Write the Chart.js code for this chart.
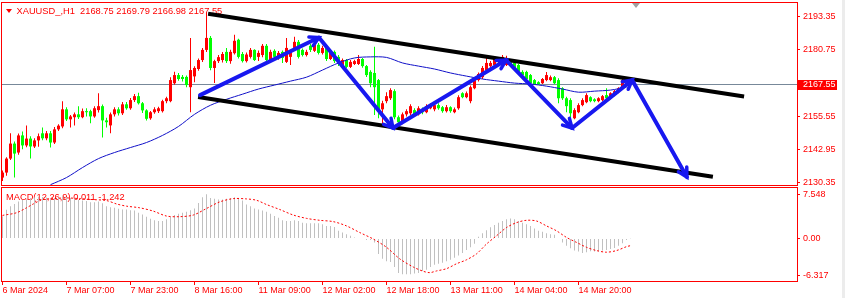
<!DOCTYPE html>
<html>
<head>
<meta charset="utf-8">
<script src="https://cdn.jsdelivr.net/npm/chart.js@4.4.1/dist/chart.umd.min.js"></script>
<style>
  body { margin: 0; background: #fff; }
  #wrap { position: relative; width: 845px; height: 298px; overflow: hidden; background: #fff; }
  #price { position: absolute; left: 0; top: 0; }
  #macd { position: absolute; left: 0; top: 186px; }
  #edge { position: absolute; left: 842px; top: 0; width: 3px; height: 298px; background: #ececec; }
</style>
</head>
<body>
<div id="wrap">
  <canvas id="price" width="845" height="186"></canvas>
  <canvas id="macd" width="845" height="112"></canvas>
  <div id="edge"></div>
</div>
<script>
var symbolTitle = 'XAUUSD_,H1  2168.75 2169.79 2166.98 2167.55';
var macdTitle = 'MACD(12,26,9) 0.011 -1.242';
var bidPrice = 2167.55;

// hourly candles, 6 Mar 15:00 -> 14 Mar 22:00
var opens = [
  2132.3, 2134.2, 2139.5, 2145.2, 2141.8, 2148.3, 2144.5, 2147.1, 2144.1, 2146.4,
  2149.1, 2147.2, 2149.1, 2145.6, 2150.6, 2151.7, 2158.2, 2154.4, 2155.2, 2156.3,
  2155.2, 2157.5, 2157.5, 2155.5, 2157.9, 2159.4, 2154.0, 2152.1, 2156.3, 2158.2,
  2156.7, 2160.1, 2158.6, 2161.7, 2163.2, 2160.5, 2157.8, 2154.8, 2157.1, 2157.5,
  2157.5, 2161.3, 2161.3, 2168.1, 2171.2, 2170.5, 2170.5, 2166.6, 2170.7, 2173.5,
  2176.9, 2180.75, 2185.3, 2173.9, 2176.5, 2176.9, 2180.0, 2176.5, 2179.5, 2184.6,
  2179.2, 2176.5, 2178.1, 2180.75, 2178.1, 2178.8, 2182.3, 2176.9, 2180.4, 2177.7,
  2180.0, 2176.2, 2178.1, 2181.5, 2183.8, 2180.75, 2178.8, 2182.3, 2180.4, 2182.7,
  2179.6, 2181.5, 2177.3, 2180.0, 2178.1, 2175.0, 2176.9, 2174.3, 2175.4, 2175.4,
  2177.3, 2174.6, 2172.4, 2172.0, 2169.3, 2158.2, 2161.3, 2162.4, 2165.1, 2155.2,
  2153.3, 2156.3, 2156.7, 2157.9, 2156.3, 2158.2, 2157.1, 2158.6, 2158.2, 2159.8,
  2159.0, 2157.5, 2159.0, 2157.1, 2158.6, 2164.3, 2162.8, 2161.3, 2166.2, 2169.3,
  2170.4, 2173.1, 2174.6, 2175.0, 2176.2, 2176.2, 2175.0, 2176.5, 2175.8, 2175.0,
  2172.4, 2172.4, 2171.2, 2169.3, 2168.5, 2168.1, 2169.3, 2169.3, 2170.4, 2169.3,
  2166.2, 2162.4, 2161.7, 2154.8, 2157.1, 2159.8, 2160.9, 2162.8, 2162.0, 2161.3,
  2161.7, 2163.6, 2162.4, 2163.6, 2164.7, 2166.2, 2169.7, 2168.75
];
var highs = [
  2135.0, 2140.0, 2149.1, 2146.0, 2149.0, 2149.8, 2152.1, 2148.0, 2147.2, 2149.0,
  2151.3, 2150.0, 2150.0, 2151.5, 2152.5, 2161.3, 2159.0, 2156.0, 2157.0, 2159.4,
  2158.5, 2158.6, 2158.0, 2159.4, 2164.3, 2160.0, 2155.0, 2157.0, 2159.0, 2159.0,
  2161.0, 2161.0, 2162.5, 2164.0, 2164.5, 2161.0, 2158.2, 2157.6, 2159.0, 2159.2,
  2161.8, 2163.0, 2170.4, 2172.5, 2172.0, 2171.2, 2171.0, 2185.3, 2174.5, 2177.5,
  2181.5, 2194.9, 2186.0, 2177.0, 2178.8, 2180.0, 2181.5, 2180.8, 2186.5, 2185.0,
  2180.0, 2179.8, 2181.5, 2181.0, 2180.5, 2183.0, 2183.0, 2180.8, 2181.0, 2180.3,
  2180.5, 2185.3, 2180.8, 2185.7, 2184.5, 2181.3, 2180.8, 2183.0, 2183.4, 2183.4,
  2182.3, 2182.0, 2180.8, 2180.5, 2178.8, 2177.5, 2177.3, 2176.9, 2177.0, 2178.8,
  2177.7, 2175.0, 2173.0, 2181.9, 2169.7, 2161.5, 2164.7, 2166.2, 2165.8, 2155.9,
  2157.0, 2158.2, 2160.1, 2158.6, 2159.4, 2158.9, 2160.1, 2160.5, 2160.5, 2160.5,
  2159.5, 2159.8, 2159.4, 2158.9, 2163.5, 2164.7, 2165.0, 2167.2, 2170.0, 2172.2,
  2174.6, 2178.8, 2176.5, 2178.0, 2178.1, 2178.8, 2178.5, 2177.0, 2176.2, 2175.4,
  2173.0, 2172.8, 2171.6, 2169.7, 2168.9, 2170.1, 2172.4, 2171.0, 2170.8, 2170.0,
  2166.6, 2163.0, 2162.4, 2158.6, 2160.5, 2162.4, 2164.3, 2163.2, 2162.4, 2162.8,
  2163.6, 2166.2, 2164.7, 2165.5, 2166.6, 2170.4, 2170.4, 2169.79
];
var lows = [
  2131.0, 2133.0, 2139.0, 2132.3, 2141.0, 2143.0, 2143.8, 2139.5, 2143.5, 2144.0,
  2146.5, 2146.5, 2143.7, 2145.0, 2150.0, 2151.0, 2153.8, 2151.3, 2152.1, 2154.5,
  2154.8, 2155.5, 2152.9, 2155.0, 2157.0, 2147.5, 2151.3, 2149.1, 2155.5, 2155.9,
  2156.0, 2158.0, 2158.0, 2161.0, 2160.0, 2156.8, 2154.0, 2154.2, 2156.5, 2156.8,
  2157.0, 2160.5, 2160.9, 2167.5, 2169.0, 2168.8, 2166.6, 2157.1, 2168.5, 2172.8,
  2176.2, 2180.0, 2173.0, 2168.2, 2175.8, 2176.0, 2175.8, 2175.5, 2179.0, 2177.5,
  2176.0, 2176.0, 2177.5, 2176.5, 2176.5, 2178.0, 2176.2, 2176.2, 2177.5, 2177.0,
  2175.8, 2175.8, 2175.0, 2181.0, 2177.5, 2178.2, 2178.2, 2180.0, 2180.0, 2179.0,
  2179.0, 2176.5, 2176.9, 2175.8, 2174.6, 2174.6, 2173.9, 2173.9, 2175.0, 2175.0,
  2174.0, 2170.5, 2166.6, 2156.0, 2154.8, 2152.1, 2160.5, 2161.7, 2154.4, 2151.7,
  2152.5, 2155.5, 2156.0, 2155.5, 2155.9, 2156.3, 2156.7, 2158.2, 2157.5, 2158.0,
  2156.9, 2157.0, 2156.9, 2156.7, 2158.0, 2162.4, 2162.4, 2160.5, 2165.8, 2168.8,
  2169.7, 2172.7, 2174.0, 2174.6, 2175.8, 2175.8, 2174.6, 2174.6, 2173.1, 2172.0,
  2170.8, 2169.3, 2167.4, 2167.4, 2167.4, 2167.8, 2168.9, 2168.9, 2167.8, 2160.5,
  2161.7, 2157.1, 2153.3, 2154.4, 2156.7, 2159.4, 2160.5, 2160.9, 2160.9, 2160.9,
  2161.3, 2162.0, 2162.0, 2163.2, 2164.3, 2165.8, 2168.5, 2166.98
];
var closes = [
  2134.2, 2139.5, 2145.2, 2141.4, 2148.3, 2144.5, 2147.1, 2144.1, 2146.4, 2148.0,
  2147.2, 2149.1, 2145.6, 2150.6, 2152.0, 2158.2, 2154.4, 2155.5, 2156.3, 2155.2,
  2157.5, 2157.1, 2155.5, 2158.6, 2159.4, 2154.0, 2153.3, 2156.3, 2158.2, 2156.7,
  2160.1, 2158.6, 2161.7, 2163.2, 2160.5, 2157.8, 2154.6, 2157.1, 2158.2, 2158.6,
  2161.3, 2162.4, 2169.3, 2171.2, 2169.7, 2169.7, 2167.4, 2173.1, 2173.9, 2176.9,
  2180.75, 2185.3, 2173.9, 2176.5, 2178.0, 2179.2, 2176.5, 2180.0, 2184.2, 2178.1,
  2176.5, 2179.0, 2180.75, 2176.9, 2179.6, 2182.3, 2176.9, 2180.0, 2178.1, 2179.6,
  2177.7, 2181.5, 2180.0, 2183.8, 2178.1, 2178.8, 2180.0, 2180.75, 2182.7, 2179.6,
  2181.5, 2177.3, 2180.0, 2176.5, 2175.4, 2176.9, 2174.3, 2176.2, 2176.5, 2177.3,
  2174.6, 2171.2, 2168.1, 2166.6, 2157.8, 2160.5, 2163.2, 2165.5, 2155.2, 2153.3,
  2156.3, 2157.5, 2159.4, 2156.3, 2158.6, 2157.1, 2159.4, 2159.8, 2159.8, 2158.6,
  2157.5, 2159.0, 2157.5, 2158.2, 2162.8, 2162.8, 2164.3, 2166.6, 2169.3, 2171.6,
  2173.9, 2175.8, 2175.8, 2177.3, 2177.3, 2178.1, 2176.9, 2175.0, 2173.5, 2172.4,
  2171.2, 2169.7, 2168.1, 2167.8, 2167.8, 2169.7, 2171.2, 2170.4, 2168.1, 2162.4,
  2162.4, 2159.4, 2156.7, 2157.9, 2159.8, 2161.7, 2163.6, 2161.3, 2161.3, 2162.4,
  2163.2, 2162.4, 2164.3, 2165.1, 2166.2, 2169.3, 2168.9, 2167.55
];

// moving average, read every 4 bars
var maBars = [12, 16, 20, 24, 28, 32, 36, 40, 44, 48, 52, 56, 60, 64, 68, 72, 76, 80, 84,
  88, 92, 96, 100, 104, 108, 112, 116, 120, 124, 128, 132, 136, 140, 144, 148, 152, 156];
var maValues = [2129.6, 2132.3, 2136.1, 2139.5, 2141.8, 2143.7, 2145.6, 2148.3, 2151.7, 2156.3,
  2159.75, 2162.0, 2163.95, 2165.9, 2167.4, 2168.9, 2170.4, 2173.1, 2175.8, 2177.7, 2178.1,
  2177.9, 2175.8, 2174.6, 2173.5, 2172.0, 2170.8, 2169.7, 2168.9, 2168.15, 2167.8, 2167.0,
  2165.9, 2164.7, 2165.1, 2165.5, 2166.6];

// MACD main (histogram), one per bar
var macdMain = [
  3.8, 4.9, 5.5, 5.9, 6.3, 6.6, 6.7, 6.9, 7.0, 7.1,
  7.1, 7.0, 6.8, 6.9, 7.0, 7.2, 7.1, 6.9, 6.8, 6.6,
  6.5, 6.4, 6.2, 6.2, 6.3, 6.0, 5.5, 5.35, 5.24, 5.07,
  4.95, 4.95, 4.84, 4.79, 4.39, 4.11, 3.72, 3.38, 3.1, 2.98,
  2.98, 3.27, 3.66, 4.0, 4.22, 4.39, 4.56, 4.84, 5.12, 6.08,
  7.04, 7.548, 6.93, 6.81, 6.64, 6.64, 6.81, 6.93, 7.04, 6.93,
  6.48, 5.8, 5.52, 5.12, 4.95, 4.79, 4.56, 4.22, 3.83, 3.55,
  3.1, 2.98, 2.98, 3.1, 2.98, 2.7, 2.59, 2.59, 2.59, 2.59,
  2.42, 2.14, 2.14, 1.97, 1.3, 1.01, 0.73, 0.45, 0.17, 0.05,
  -0.11, -0.28, -0.28, -0.68, -2.65, -3.49, -3.89, -4.05, -4.9, -5.9,
  -6.14, -6.14, -6.14, -6.02, -5.9, -5.57, -5.35, -4.9, -4.5, -4.33,
  -4.17, -3.89, -3.66, -3.32, -2.93, -2.48, -1.97, -1.52, -0.9, 0.3,
  0.9, 1.4, 1.9, 2.3, 2.7, 3.0, 3.3, 3.4, 3.3, 3.0,
  2.7, 2.42, 2.14, 1.69, 1.3, 1.13, 0.9, 0.73, 0.62, -0.1,
  -0.68, -1.24, -1.69, -2.08, -2.25, -2.48, -2.36, -2.2, -2.25, -2.2,
  -2.08, -1.97, -1.8, -1.63, -1.24, -0.84, -0.28, 0.011
];
var signalBars = [0, 3.5, 6, 7.7, 10, 12.7, 16, 19.3, 22.7, 26, 28.5, 31, 34.3, 37.7, 41, 44.3,
  47.7, 51, 54.3, 57.7, 61, 63.5, 66, 69.3, 72.7, 76, 79.3, 82.7, 86, 89.3, 92.7, 96, 99.3,
  102.7, 105.2, 106.8, 108.5, 111, 113.5, 116, 118.5, 121, 123.5, 126, 128.5, 131, 133.5,
  136, 138.5, 141, 143.5, 146, 148.5, 151, 153.5, 156, 157];
var signalValues = [3.94, 4.39, 5.24, 5.9, 6.64, 6.81, 6.93, 6.81, 6.64, 6.48, 5.9, 5.52, 5.24,
  4.67, 3.83, 3.72, 4.0, 5.12, 6.25, 6.81, 6.76, 6.53, 5.8, 4.95, 4.0, 3.43, 3.1, 2.87, 2.14,
  1.01, -0.11, -1.52, -3.49, -4.9, -5.63, -5.86, -5.57, -5.18, -4.34, -3.66, -2.65, -0.96,
  0.45, 1.86, 2.7, 3.1, 2.98, 2.14, 1.3, 0.17, -0.68, -1.52, -2.08, -2.36, -2.08, -1.41, -1.242];

var priceTicks = [2130.35, 2142.95, 2155.55, 2167.55, 2180.75, 2193.35];
var macdTicks = [-6.317, 0, 7.548];
var macdTickLabels = ['-6.317', '0.00', '7.548'];
var timeTickBars = [0, 16, 32, 48, 64, 80, 96, 112, 128, 144];
var timeTickLabels = ['6 Mar 2024', '7 Mar 07:00', '7 Mar 23:00', '8 Mar 16:00', '11 Mar 09:00',
  '12 Mar 02:00', '12 Mar 18:00', '13 Mar 11:00', '14 Mar 04:00', '14 Mar 20:00'];

// drawn objects, in bar / price units
var upperBars = [51.4, 185.4], upperPrices = [2194.5, 2163.1];
var lowerBars = [48.9, 177.6], lowerPrices = [2162.9, 2132.6];
var waveBars = [49.4, 79.1, 97.6, 125.9, 142.4, 157.4, 171.1];
var wavePrices = [2163.6, 2185.45, 2151.1, 2176.9, 2151.1, 2169.3, 2132.5];

var red = '#ff0000', lime = '#00ff00', waveBlue = '#1818f0';
Chart.defaults.font.family = '"Liberation Sans", Arial, sans-serif';
Chart.defaults.font.size = 9;
Chart.defaults.color = red;

function pts(xs, ys) {
    return xs.map(function(x, i) { return { x: x, y: ys[i] }; });
}

var candleColors = closes.map(function(c, i) { return c >= opens[i] ? red : lime; });
var bodies = opens.map(function(o, i) { return { x: i, y: [o, closes[i]] }; });
var wicks = lows.map(function(l, i) { return { x: i, y: [l, highs[i]] }; });
var histData = macdMain.map(function(v, i) { return { x: i, y: v }; });

function noPad(s) {
    s.paddingTop = 0; s.paddingBottom = 0; s.paddingLeft = 0; s.paddingRight = 0;
}

function timeAxis(show) {
    return {
        type: 'linear', min: -0.375, max: 198.625, offset: false, display: show, position: 'bottom',
        grid: { display: true, offset: false, drawOnChartArea: false, tickLength: 4, color: red },
        border: { display: false },
        ticks: {
            color: red, padding: 0, align: 'start', autoSkip: false, maxRotation: 0, minRotation: 0,
            callback: function(v, i) { return timeTickLabels[i]; }
        },
        afterBuildTicks: function(s) {
            s.ticks = timeTickBars.map(function(b) { return { value: b }; });
        },
        afterFit: function(s) { noPad(s); if (show) s.height = 17; }
    };
}

function valueAxis(min, max, ticks, labelFn, colorFn) {
    return {
        type: 'linear', position: 'right', min: min, max: max, beginAtZero: false,
        grid: { display: true, drawOnChartArea: false, tickLength: 3, color: red },
        border: { display: false },
        ticks: { padding: 3, autoSkip: false, color: colorFn, callback: labelFn },
        afterBuildTicks: function(s) {
            s.ticks = ticks.map(function(v) { return { value: v }; });
        },
        afterFit: function(s) { noPad(s); s.width = 48; }
    };
}

function drawFrame(chart) {
    var a = chart.chartArea, ctx = chart.ctx;
    ctx.save();
    ctx.strokeStyle = red;
    ctx.lineWidth = 1;
    ctx.strokeRect(a.left + 0.5, a.top + 0.5, a.right - a.left, a.bottom - a.top);
    ctx.restore();
}

var priceDecor = {
    id: 'priceDecor',
    beforeDraw: function(chart) {
        var ctx = chart.ctx, a = chart.chartArea;
        var py = chart.scales.y.getPixelForValue(bidPrice);
        ctx.save();
        ctx.fillStyle = red;
        ctx.fillRect(a.right + 1, Math.round(py) - 5, 39, 10);
        ctx.restore();
    },
    beforeDatasetsDraw: function(chart) {
        var ctx = chart.ctx, a = chart.chartArea;
        var py = Math.floor(chart.scales.y.getPixelForValue(bidPrice)) + 0.5;
        ctx.save();
        ctx.strokeStyle = '#778899';
        ctx.lineWidth = 1;
        ctx.beginPath();
        ctx.moveTo(a.left, py);
        ctx.lineTo(a.right, py);
        ctx.stroke();
        ctx.fillStyle = red;
        ctx.beginPath();
        ctx.moveTo(a.left + 5, a.top + 7);
        ctx.lineTo(a.left + 11, a.top + 7);
        ctx.lineTo(a.left + 8, a.top + 11);
        ctx.closePath();
        ctx.fill();
        ctx.font = '9.3px "Liberation Sans", Arial, sans-serif';
        ctx.textBaseline = 'middle';
        ctx.fillText(symbolTitle, a.left + 15.5, a.top + 9);
        ctx.restore();
    },
    afterDatasetsDraw: function(chart) {
        var xs = chart.scales.x, ys = chart.scales.y, ctx = chart.ctx;
        ctx.save();
        ctx.strokeStyle = waveBlue;
        ctx.lineWidth = 3.5;
        ctx.lineCap = 'round';
        for (var k = 1; k < waveBars.length; k++) {
            var x0 = xs.getPixelForValue(waveBars[k - 1]), y0 = ys.getPixelForValue(wavePrices[k - 1]);
            var x1 = xs.getPixelForValue(waveBars[k]), y1 = ys.getPixelForValue(wavePrices[k]);
            var ang = Math.atan2(y1 - y0, x1 - x0);
            ctx.beginPath();
            ctx.moveTo(x1 - 10 * Math.cos(ang - 0.5), y1 - 10 * Math.sin(ang - 0.5));
            ctx.lineTo(x1, y1);
            ctx.lineTo(x1 - 10 * Math.cos(ang + 0.5), y1 - 10 * Math.sin(ang + 0.5));
            ctx.stroke();
        }
        // chart shift marker
        var sx = Math.round(xs.getPixelForValue(158.4));
        ctx.fillStyle = '#a0a0a0';
        ctx.beginPath();
        ctx.moveTo(sx - 4, chart.chartArea.top + 1);
        ctx.lineTo(sx + 4, chart.chartArea.top + 1);
        ctx.lineTo(sx, chart.chartArea.top + 6);
        ctx.closePath();
        ctx.fill();
        ctx.restore();
    },
    afterDraw: drawFrame
};

var macdDecor = {
    id: 'macdDecor',
    beforeDatasetsDraw: function(chart) {
        var ctx = chart.ctx, a = chart.chartArea;
        ctx.save();
        ctx.fillStyle = red;
        ctx.font = '9.3px "Liberation Sans", Arial, sans-serif';
        ctx.textBaseline = 'middle';
        ctx.fillText(macdTitle, a.left + 5, a.top + 10);
        ctx.restore();
    },
    afterDraw: drawFrame
};

var priceChart = new Chart(document.getElementById('price'), {
    type: 'bar',
    data: {
        datasets: [
            { type: 'line', label: 'wave', data: pts(waveBars, wavePrices), borderColor: waveBlue,
              borderWidth: 4, pointRadius: 0, borderJoinStyle: 'round', borderCapStyle: 'round', order: 0 },
            { type: 'line', label: 'upper', data: pts(upperBars, upperPrices), borderColor: '#000000',
              borderWidth: 4, pointRadius: 0, order: 1 },
            { type: 'line', label: 'lower', data: pts(lowerBars, lowerPrices), borderColor: '#000000',
              borderWidth: 4, pointRadius: 0, order: 1 },
            { type: 'line', label: 'MA', data: pts(maBars, maValues), borderColor: '#1010c8',
              borderWidth: 1, pointRadius: 0, tension: 0.3, order: 2 },
            { type: 'bar', label: 'body', data: bodies, backgroundColor: candleColors,
              barThickness: 3, grouped: false, inflateAmount: 0, borderWidth: 0, order: 3 },
            { type: 'bar', label: 'wick', data: wicks, backgroundColor: candleColors,
              barThickness: 1, grouped: false, inflateAmount: 0, borderWidth: 0, order: 4 }
        ]
    },
    options: {
        responsive: false,
        animation: false,
        events: [],
        layout: { padding: { left: 1, top: 2, right: 0, bottom: 1 } },
        plugins: { legend: { display: false }, tooltip: { enabled: false } },
        scales: {
            x: timeAxis(false),
            y: valueAxis(2129.48, 2198.93, priceTicks,
                function(v) { return v.toFixed(2); },
                function(c) { return c.tick && c.tick.value === bidPrice ? '#ffffff' : red; })
        }
    },
    plugins: [priceDecor]
});

var macdChart = new Chart(document.getElementById('macd'), {
    type: 'bar',
    data: {
        datasets: [
            { type: 'line', label: 'signal', data: pts(signalBars, signalValues), borderColor: red,
              borderWidth: 1, borderDash: [2, 2], pointRadius: 0, tension: 0.3, order: 0 },
            { type: 'bar', label: 'macd', data: histData, backgroundColor: '#c0c0c0',
              barThickness: 1, grouped: false, inflateAmount: 0, borderWidth: 0, order: 1 }
        ]
    },
    options: {
        responsive: false,
        animation: false,
        events: [],
        layout: { padding: { left: 1, top: 1, right: 0, bottom: 0 } },
        plugins: { legend: { display: false }, tooltip: { enabled: false } },
        scales: {
            x: timeAxis(true),
            y: valueAxis(-7.29, 8.8, macdTicks,
                function(v, i) { return macdTickLabels[i]; },
                red)
        }
    },
    plugins: [macdDecor]
});
</script>
</body>
</html>
